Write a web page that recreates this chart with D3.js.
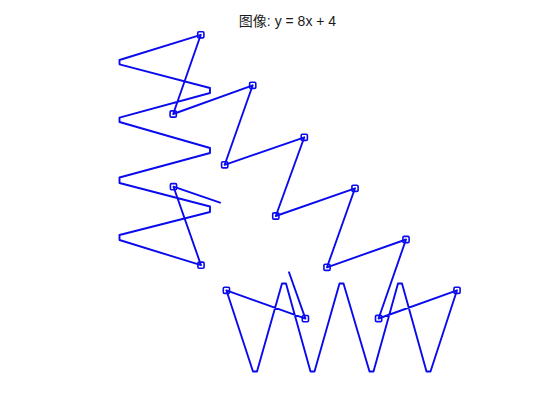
<!DOCTYPE html>
<html>
<head>
<meta charset="utf-8">
<script src="https://cdn.jsdelivr.net/npm/d3@7"></script>
<style>
  html, body { margin: 0; padding: 0; background: #fff; }
  svg { display: block; }
</style>
</head>
<body>
<svg id="chart" width="560" height="420"></svg>
<script>
// ---- data ----
const titleText = "图像: y = 8x + 4";
const xs = [147, 100.5, 128, 46.5, 46.5, 137, 137, 46.5, 46.5, 137, 137, 46.5, 46.5, 137, 137, 46.5, 46.5,
            127.8, 100.2, 179.7, 151.7, 231.3, 202.8, 282, 254, 333, 305.6, 384,
            357.5, 353.5, 329, 325, 300.5, 296.5, 270.5, 266.5, 241.5, 237.5, 213, 209, 184, 180,
            153.4, 232.4, 216];
const ys = [185.3, 201.3, 122.8, 148, 153, 176, 181.5, 205, 210.5, 235, 240, 266, 270.3, 295, 300, 323.7, 328,
            353.2, 274, 302.7, 223.2, 250.7, 172, 199.7, 120.7, 148.5, 69.5, 97.7,
            16.5, 16.5, 104.5, 104.5, 16.5, 16.5, 104.5, 104.5, 16.5, 16.5, 104.5, 104.5, 16.5, 16.5,
            97.7, 69.4, 115.7];
const marked = [0, 1, 1, 0, 0, 0, 0, 0, 0, 0, 0, 0, 0, 0, 0, 0, 0,
                1, 1, 1, 1, 1, 1, 1, 1, 1, 1, 1,
                0, 0, 0, 0, 0, 0, 0, 0, 0, 0, 0, 0, 0, 0,
                1, 1, 0];

const points = xs.map((x, i) => ({ x, y: ys[i], m: marked[i] }));

// ---- layout ----
const svg = d3.select("#chart");
const xScale = d3.scaleLinear().domain([0, 434]).range([73, 507]);
const yScale = d3.scaleLinear().domain([0, 357]).range([388, 31]);
const blue = "#0a0aee";

const line = d3.line().x(d => xScale(d.x)).y(d => yScale(d.y));

svg.append("path")
  .datum(points)
  .attr("d", line)
  .attr("fill", "none")
  .attr("stroke", blue)
  .attr("stroke-width", 1.9)
  .attr("stroke-linejoin", "round")
  .attr("stroke-linecap", "round");

const ms = 6.2;
svg.append("g").selectAll("rect")
  .data(points.filter(d => d.m))
  .join("rect")
  .attr("x", d => xScale(d.x) - ms / 2)
  .attr("y", d => yScale(d.y) - ms / 2)
  .attr("width", ms)
  .attr("height", ms)
  .attr("rx", 1.2)
  .attr("fill", "none")
  .attr("stroke", blue)
  .attr("stroke-width", 1.6);

svg.append("text")
  .attr("x", 287.5)
  .attr("y", 26)
  .attr("text-anchor", "middle")
  .attr("font-family", "'Liberation Sans', 'Noto Sans CJK SC', sans-serif")
  .attr("font-size", 14)
  .attr("fill", "#1a1a1a")
  .text(titleText);
</script>
</body>
</html>
